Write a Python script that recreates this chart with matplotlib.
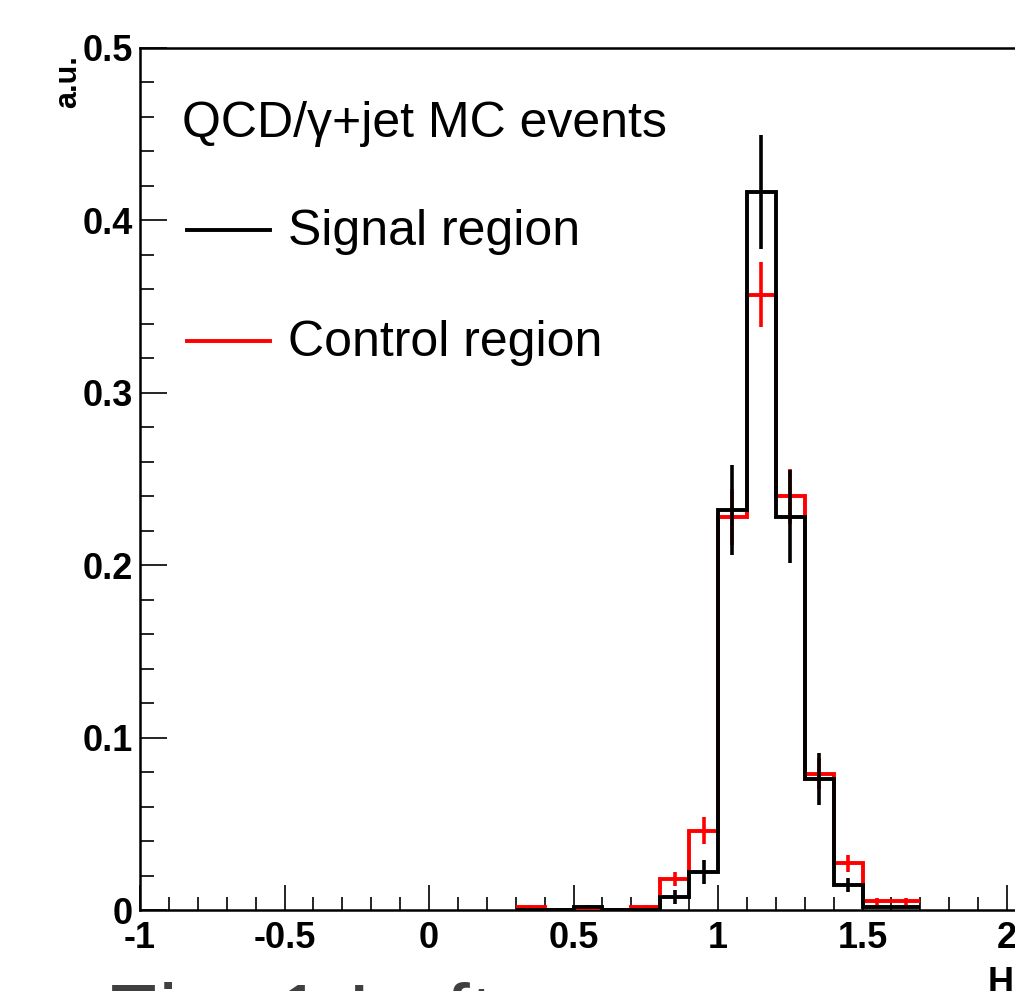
import numpy as np
import matplotlib.pyplot as plt
from matplotlib.lines import Line2D
from matplotlib.ticker import MultipleLocator, FuncFormatter

plt.rcParams['font.family'] = ['Liberation Sans', 'DejaVu Sans']
plt.rcParams['axes.unicode_minus'] = False

# histogram contents (bin width 0.1, low edges below)
bin_w = 0.1
bin_lo = [0.3, 0.4, 0.5, 0.6, 0.7, 0.8, 0.9, 1.0, 1.1, 1.2, 1.3, 1.4, 1.5, 1.6]
signal = [0.0, 0.0, 0.002, 0.0, 0.0, 0.0075, 0.022, 0.232, 0.4165, 0.228, 0.076, 0.0145, 0.002, 0.002]
signal_err = [0, 0, 0.001, 0, 0, 0.004, 0.007, 0.026, 0.033, 0.027, 0.015, 0.004, 0.001, 0.001]
control = [0.002, 0.0, 0.0, 0.0, 0.002, 0.018, 0.046, 0.228, 0.357, 0.240, 0.079, 0.027, 0.005, 0.005]
control_err = [0.001, 0, 0, 0, 0.001, 0.004, 0.008, 0.016, 0.019, 0.016, 0.009, 0.005, 0.002, 0.002]

labels = ['Signal region', 'Control region']
colors = ['black', 'red']
title = 'QCD/\u03b3+jet MC events'

W, H = 1015, 991
fig = plt.figure(figsize=(W / 100, H / 100), dpi=100)
# axes run past the right edge of the picture (cropped page)
ax = fig.add_axes([140 / W, 1 - 910 / H, 4 * 289 / W, 862 / H])

edges = bin_lo + [bin_lo[-1] + bin_w]
centers = np.array(bin_lo) + bin_w / 2

for vals, errs, c, z in [(control, control_err, 'red', 3), (signal, signal_err, 'black', 4)]:
    ax.stairs(vals, edges, color=c, lw=2.8, baseline=None, zorder=z)
    errs = np.array(errs)
    m = errs > 0
    ax.errorbar(centers[m], np.array(vals)[m], yerr=errs[m], fmt='none',
                ecolor=c, elinewidth=2.6, capsize=0, zorder=z)

ax.set_xlim(-1, 3)
ax.set_ylim(0, 0.5)

ax.xaxis.set_major_locator(MultipleLocator(0.5))
ax.xaxis.set_minor_locator(MultipleLocator(0.1))
ax.yaxis.set_major_locator(MultipleLocator(0.1))
ax.yaxis.set_minor_locator(MultipleLocator(0.02))
fmt = FuncFormatter(lambda v, p: '%g' % round(v, 2))
ax.xaxis.set_major_formatter(fmt)
ax.yaxis.set_major_formatter(fmt)

ax.tick_params(axis='x', which='major', direction='in', length=18, width=1.2, pad=8,
               labelsize=26, top=False)
ax.tick_params(axis='x', which='minor', direction='in', length=9.5, width=1.2, top=False)
ax.tick_params(axis='y', which='major', direction='in', length=19.5, width=1.2, pad=5,
               labelsize=26, right=False)
ax.tick_params(axis='y', which='minor', direction='in', length=10, width=1.2, right=False)
for lab in ax.get_xticklabels() + ax.get_yticklabels():
    lab.set_fontweight('bold')

for s in ax.spines.values():
    s.set_linewidth(1.8)

# y axis title, ROOT style at the top
fig.text(68 / W, 1 - 55 / H, 'a.u.', rotation=90, ha='center', va='top',
         fontsize=22, fontweight='bold')

# title and hand made legend
fig.text(182 / W, 1 - 137 / H, title, fontsize=36, va='baseline')
for i, (lab, c) in enumerate(zip(labels, colors)):
    ly = [230, 341][i]
    fig.add_artist(Line2D([187 / W, 270 / W], [1 - ly / H, 1 - ly / H],
                          color=c, lw=2.8, transform=fig.transFigure))
    fig.text(288 / W, 1 - (ly + 15) / H, lab, fontsize=36, va='baseline')

# x axis title, mostly cut off by the crop
fig.text(988 / W, 1 - 993 / H, 'H', fontsize=26, fontweight='bold', va='baseline')

# caption of the page below, only its top is visible
fig.text(105 / W, 1 - 1045 / H, 'Fig. 1 Left: ', fontsize=63, color='#404040',
         va='baseline')

fig.savefig('out.png', dpi=100)
